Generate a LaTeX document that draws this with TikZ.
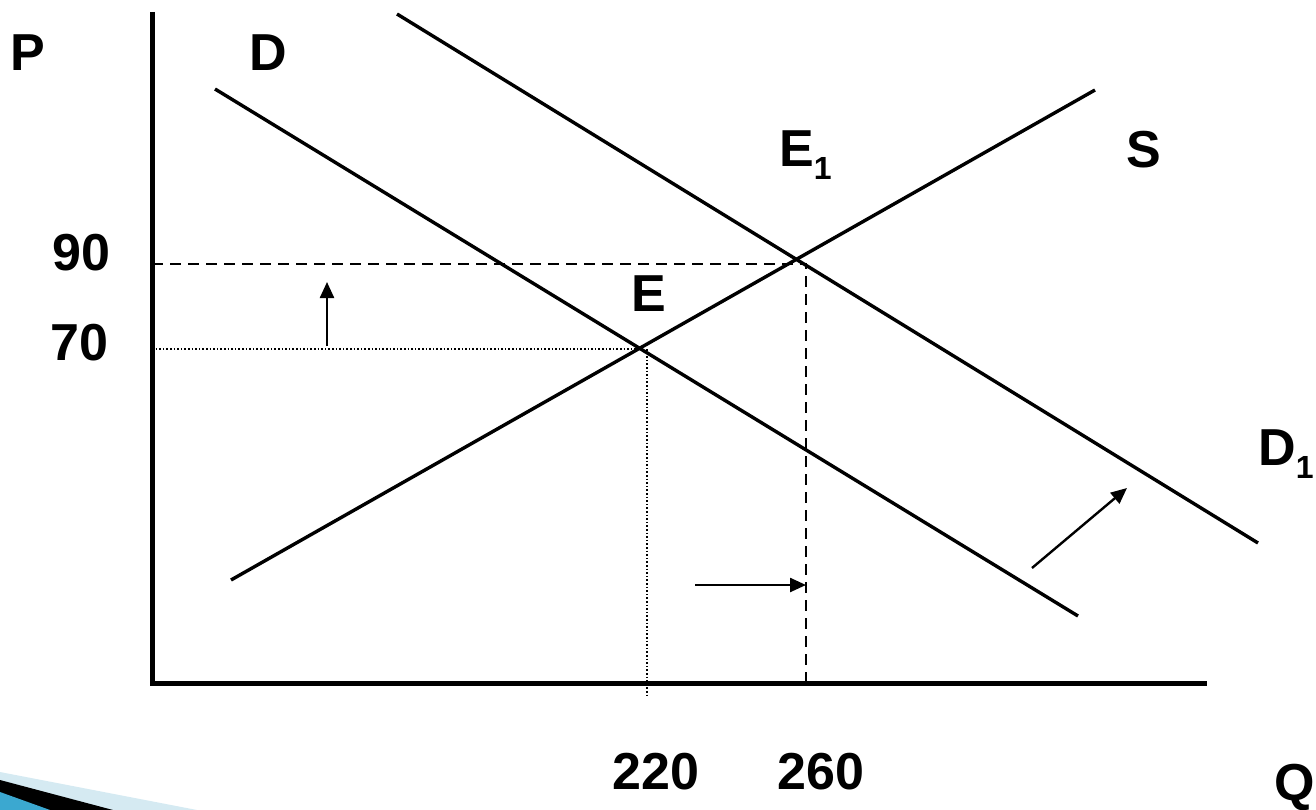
\documentclass[tikz,border=0pt]{standalone}
\usepackage{fontspec}
\setmainfont{Liberation Sans}
\usetikzlibrary{arrows.meta}
\definecolor{swlight}{HTML}{D5EAF2}
\definecolor{swblue}{HTML}{3BA8D0}
\tikzset{
  lbl/.style={anchor=base west, inner sep=0pt, font=\fontsize{52}{60}\selectfont\bfseries},
  curve/.style={line width=3.4pt},
  axis/.style={line width=5pt},
  guide/.style={line width=2.2pt, dash pattern=on 11pt off 7pt},
  dotline/.style={line width=1.6pt, dash pattern=on 1.6pt off 2pt},
  shiftarrow/.style={line width=2.4pt, -{Triangle[length=16pt,width=14pt]}}
}
\newcommand{\subone}{\raisebox{-13pt}{\fontsize{32}{36}\selectfont 1}}
\begin{document}
\begin{tikzpicture}[x=1pt,y=-1pt]
\useasboundingbox (0,0) rectangle (1316,810);
% swoosh decoration
\fill[swlight] (0,772) -- (197,810) -- (0,810) -- cycle;
\fill[black] (0,780) -- (113,810) -- (0,810) -- cycle;
\fill[swblue] (0,792) -- (50,810) -- (0,810) -- cycle;
% coordinates
\coordinate (Ytop) at (152,12);
\coordinate (Ybot) at (152,685);
\coordinate (Xstart) at (150,683);
\coordinate (Xend) at (1207,683);
\coordinate (Da) at (215,89);  \coordinate (Db) at (1078,616);
\coordinate (D1a) at (397,14); \coordinate (D1b) at (1258,543);
\coordinate (Sa) at (231,580); \coordinate (Sb) at (1095,90);
\coordinate (Eq) at (640,349);
\coordinate (P90) at (152,264); \coordinate (Q260top) at (806,264);
\coordinate (Q260bot) at (806,683);
\coordinate (P70) at (152,349);
\coordinate (Q220top) at (647,349); \coordinate (Q220bot) at (647,695);
\coordinate (A1s) at (327,346); \coordinate (A1e) at (327,282);
\coordinate (A2s) at (695,585); \coordinate (A2e) at (806,585);
\coordinate (A3s) at (1032,568); \coordinate (A3e) at (1127,488);
% guides
\draw[guide] (P90) -- (Q260top) -- (Q260bot);
\draw[dotline] (P70) -- (Eq);
\draw[dotline] (Q220top) -- (Q220bot);
% axes
\draw[axis] (Ytop) -- (Ybot);
\draw[axis] (Xstart) -- (Xend);
% curves
\draw[curve] (Da) -- (Db);
\draw[curve] (D1a) -- (D1b);
\draw[curve] (Sa) -- (Sb);
% shift arrows
\draw[shiftarrow] (A1s) -- (A1e);
\draw[shiftarrow] (A2s) -- (A2e);
\draw[shiftarrow] (A3s) -- (A3e);
% labels
\node[lbl] (lP) at (10,71) {P};
\node[lbl] (lD) at (249,71) {D};
\node[lbl] (lE1) at (779,167) {E\subone};
\node[lbl] (lS) at (1126,168) {S};
\node[lbl] (l90) at (52,270) {90};
\node[lbl] (l70) at (50,360) {70};
\node[lbl] (lE) at (631,311) {E};
\node[lbl] (lD1) at (1258,465) {D\subone};
\node[lbl] (l220) at (612,789) {220};
\node[lbl] (l260) at (777,789) {260};
\node[lbl] (lQ) at (1274,800) {Q};
\end{tikzpicture}
\end{document}
